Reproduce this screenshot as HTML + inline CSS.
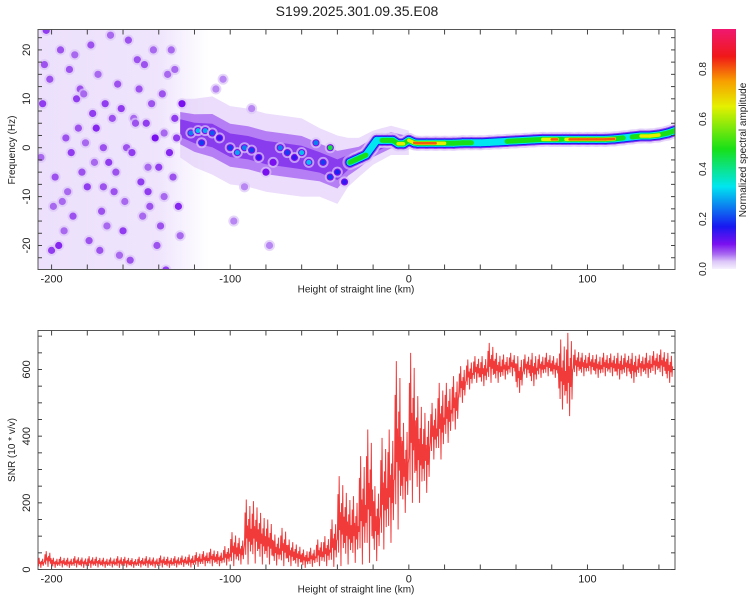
<!DOCTYPE html>
<html><head><meta charset="utf-8">
<style>
html,body{margin:0;padding:0;background:#fff;}
svg{display:block;font-family:"Liberation Sans",sans-serif;}
</style></head>
<body>
<svg id="chart" width="750" height="600" viewBox="0 0 750 600">
  <defs>
    <clipPath id="clipTop"><rect x="38" y="29" width="637" height="241"/></clipPath>
    <clipPath id="clipBot"><rect x="38" y="330" width="637" height="240"/></clipPath>
    <linearGradient id="cbGrad" x1="0" y1="1" x2="0" y2="0"></linearGradient>
    <linearGradient id="hazeGrad" x1="0" y1="0" x2="1" y2="0">
      <stop offset="0" stop-color="#e6d6fb" stop-opacity="0.75"/>
      <stop offset="0.7" stop-color="#e6d6fb" stop-opacity="0.65"/>
      <stop offset="1" stop-color="#e6d6fb" stop-opacity="0"/>
    </linearGradient>
  </defs>
  <text x="357" y="16" font-size="14" text-anchor="middle" fill="#222">S199.2025.301.09.35.E08</text>
  <g id="topPanel"></g>
  <g id="botPanel"></g>
  <g id="cbPanel"></g>
</svg>
<script>
// ---------- data ----------
const xTicks = [-200, -100, 0, 100];
const xMinorTicks = [-200,-180,-160,-140,-120,-100,-80,-60,-40,-20,0,20,40,60,80,100,120,140];
const freqTicks = [20, 10, 0, -10, -20];
const snrTicks = [0, 200, 400, 600];
const cbTicks = [0.0, 0.2, 0.4, 0.6, 0.8];

// coherent ridge (km, Hz, normalized amplitude)
const ridgeKm  = [-33,-30,-27,-24,-21,-18,-15,-12,-9,-6,-3,0,3,5,10,15,20,25,30,35,40,45,50,55,60,65,70,75,80,83,86,88,90,95,100,105,110,115,120,125,130,135,140,145,149];
const ridgeHz  = [-3,-2.5,-2,-1.5,0,1.5,1.5,1.5,1.5,0.8,0.8,1.5,1,0.9,0.9,0.9,0.9,0.9,1,1,1,1.1,1.2,1.3,1.4,1.5,1.6,1.7,1.7,1.7,1.7,1.7,1.7,1.7,1.7,1.7,1.7,1.8,2,2.2,2.4,2.4,2.6,3,3.5];
const ridgeAmp = [0.45,0.6,0.45,0.6,0.35,0.45,0.5,0.5,0.5,0.65,0.7,0.55,0.8,0.85,0.85,0.85,0.7,0.6,0.65,0.45,0.5,0.45,0.45,0.5,0.55,0.55,0.55,0.6,0.8,0.85,0.4,0.45,0.85,0.85,0.85,0.85,0.85,0.75,0.5,0.45,0.75,0.8,0.5,0.5,0.6];

// diffuse band (km, centre Hz, half-width Hz)
const bandKm   = [-128,-120,-110,-100,-90,-80,-70,-60,-50,-40,-34,-28,-20,-10,0];
const bandHz   = [4,3,2.5,0.5,0,-1,-1.5,-2,-3,-4.5,-3,-2,0,1.5,1];
const bandHalf = [6,7,8,8,8,8,8,8,7,7,5,4,3.5,3,2.5];

// scattered blobs
const blobKm  = [-205,-200,-196,-192,-190,-186,-183,-180,-178,-175,-172,-170,-168,-166,-163,-160,-158,-155,-152,-150,-147,-145,-142,-140,-138,-136,-134,-131,-129,-127,-198,-188,-173,-165,-157,-148,-141,-133,-203,-185,-162,-176,-194,-144,
  -206,-201,-199,-195,-193,-189,-187,-184,-181,-179,-177,-174,-171,-169,-167,-164,-161,-159,-156,-154,-151,-149,-146,-143,-139,-137,-135,-132,-130,-128,-204,-191,-182,-171,-153,-146,-137,-131,-108,-98,-88,-78,-104,-92,
  -122,-118,-114,-110,-116,-106,-100,-96,-92,-88,-84,-80,-76,-72,-68,-64,-60,-56,-52,-48,-44,-40,-36,-44];
const blobHz  = [9,-21,-20,2,16,10,-5,-8,21,4,-13,9,-3,6,13,-17,0,-1,18,-7,5,-12,2,-4,11,-25,-1,6,-12,9,-6,-14,-21,-9,22,17,-20,20,24,4,-22,-3,-11,9,
  -2,14,-12,20,-17,-1,19,12,1,-19,7,15,-8,-16,23,-5,8,-11,-23,6,12,-14,-9,20,-16,3,15,-6,2,-18,17,-9,11,0,5,-4,-10,16,12,-15,8,-20,14,-8,
  3,3.5,3.5,3,1,2,0,-1,0,-0.5,-2,-5,-3,0,-1,-2,-1,-3,1,-3,-6,-5,-7,0];
const blobAmp = [0.08,0.08,0.09,0.07,0.07,0.08,0.07,0.08,0.07,0.09,0.07,0.08,0.08,0.07,0.07,0.08,0.07,0.08,0.07,0.08,0.08,0.07,0.12,0.08,0.07,0.08,0.09,0.08,0.09,0.1,0.07,0.07,0.07,0.07,0.07,0.07,0.07,0.06,0.08,0.07,0.06,0.06,0.06,0.07,
  0.06,0.07,0.06,0.07,0.06,0.08,0.06,0.07,0.06,0.07,0.08,0.06,0.07,0.06,0.06,0.07,0.08,0.06,0.07,0.06,0.07,0.06,0.08,0.06,0.07,0.06,0.06,0.07,0.08,0.06,0.07,0.06,0.06,0.07,0.07,0.06,0.06,0.06,0.05,0.05,0.05,0.05,0.05,0.05,
  0.25,0.3,0.28,0.22,0.2,0.15,0.2,0.28,0.25,0.2,0.15,0.12,0.12,0.25,0.2,0.15,0.3,0.3,0.25,0.2,0.2,0.18,0.15,0.45];

// SNR per 4-km bin: low and high envelope
const snrKm = [-206,-202,-198,-194,-190,-186,-182,-178,-174,-170,-166,-162,-158,-154,-150,-146,-142,-138,-134,-130,-126,-122,-118,-114,-110,-106,-102,-98,-94,-90,-86,-82,-78,-74,-70,-66,-62,-58,-54,-50,-46,-42,-38,-34,-30,-26,-22,-18,-14,-10,-6,-2,2,6,10,14,18,22,26,30,34,38,42,46,50,54,58,62,66,70,74,78,82,86,90,94,98,102,106,110,114,118,122,126,130,134,138,142,146];
const snrLo = [5,8,5,6,5,6,5,5,6,5,6,5,6,5,6,5,5,6,5,6,8,6,8,10,10,10,12,10,15,15,18,15,15,12,10,10,8,5,8,10,10,8,10,15,20,15,20,25,60,80,120,170,200,200,230,330,330,380,420,500,540,560,550,560,560,570,580,530,575,550,575,580,575,480,460,580,580,585,575,580,580,570,580,560,580,575,585,580,560];
const snrHi = [35,55,35,38,35,40,36,40,38,35,36,40,38,34,38,40,36,42,38,40,42,45,52,55,62,55,70,112,95,210,205,170,150,105,125,90,75,60,65,90,100,150,280,230,220,340,420,250,395,420,625,440,650,520,470,500,560,560,580,610,630,640,640,680,650,645,650,640,645,650,645,650,640,690,710,660,650,650,645,650,648,650,648,650,645,650,655,660,650];

// ---------- helpers ----------
const NS = "http://www.w3.org/2000/svg";
function mk(tag, attrs, parent){ const e=document.createElementNS(NS,tag); for(const k in attrs) e.setAttribute(k,attrs[k]); parent.appendChild(e); return e; }

const X0=38, X1=675;
const KM0=-207.6, KM1=149;
function xs(km){ return X0 + (km-KM0)/(KM1-KM0)*(X1-X0); }
function yF(hz){ return 147.7 - hz*4.89; }
function yS(v){ return 569.5 - v*(200/600); }
function yC(v){ return 269 - v*250; }

const cmapStops = [[0,'#f6f0fe'],[0.03,'#dcc6f8'],[0.06,'#a868f0'],[0.1,'#7a10f0'],[0.17,'#1818f0'],[0.33,'#00e6f0'],[0.48,'#18e018'],[0.65,'#e4f000'],[0.75,'#f8a000'],[0.85,'#f01818'],[1,'#f01890']];
function hex2rgb(h){return [parseInt(h.substr(1,2),16),parseInt(h.substr(3,2),16),parseInt(h.substr(5,2),16)];}
function cmap(v){
  v=Math.max(0,Math.min(1,v));
  for(let i=1;i<cmapStops.length;i++){
    if(v<=cmapStops[i][0]){
      const a=cmapStops[i-1], b=cmapStops[i]; const t=(v-a[0])/(b[0]-a[0]);
      const ca=hex2rgb(a[1]), cb=hex2rgb(b[1]);
      return 'rgb('+ca.map((c,j)=>Math.round(c+(cb[j]-c)*t)).join(',')+')';
    }
  }
  return cmapStops[cmapStops.length-1][1];
}

const topG=document.getElementById('topPanel');
const botG=document.getElementById('botPanel');
const cbG=document.getElementById('cbPanel');

// ---------- top spectrogram ----------
const topData = mk('g',{'clip-path':'url(#clipTop)'},topG);


const haze = mk('rect',{x:xs(-208),y:29,width:xs(-112)-xs(-208),height:241,fill:'url(#hazeGrad)'},topData);



function bandPoly(scale, color, op, name){
  const up=[], dn=[];
  for(let i=0;i<bandKm.length;i++){
    up.push(xs(bandKm[i]).toFixed(1)+','+yF(bandHz[i]+bandHalf[i]*scale).toFixed(1));
    dn.unshift(xs(bandKm[i]).toFixed(1)+','+yF(bandHz[i]-bandHalf[i]*scale).toFixed(1));
  }
  const p=mk('polygon',{points:up.concat(dn).join(' '),fill:color,'fill-opacity':op},topData);
  
  
}
bandPoly(1.0,'#e2cffa',0.7,'band-halo');
bandPoly(0.55,'#9a4cf0',0.65,'band-core');
bandPoly(0.3,'#6a10e8',0.6,'band-center');

for(let i=0;i<blobKm.length;i++){
  const a=blobAmp[i], cx=xs(blobKm[i]), cy=yF(blobHz[i]);
  const g=mk('g',{},topData);
  
  
  mk('circle',{cx:cx,cy:cy,r:5.5,fill:cmap(0.03),'fill-opacity':0.7},g);
  mk('circle',{cx:cx,cy:cy,r:3.6,fill:cmap(Math.min(a,0.1))},g);
  if(a>0.12) mk('circle',{cx:cx,cy:cy,r:2.5,fill:cmap(a)},g);
}

const ridgeLayers=[[0.03,15,0.6],[0.08,11,1],[0.17,9,1],[0.33,7,1],[0.48,5,1],[0.65,3.5,1],[0.8,2.5,1]];
for(const L of ridgeLayers){
  for(let i=0;i<ridgeKm.length-1;i++){
    const a=(ridgeAmp[i]+ridgeAmp[i+1])/2;
    if(a<L[0]) continue;
    const s=mk('line',{x1:xs(ridgeKm[i]),y1:yF(ridgeHz[i]),x2:xs(ridgeKm[i+1]),y2:yF(ridgeHz[i+1]),stroke:cmap(L[0]),'stroke-width':L[1],'stroke-linecap':'round','stroke-opacity':L[2]},topData);
    
    
  }
}

// ---------- axes ----------
function frame(parent, y0, y1, name){
  const r=mk('rect',{x:X0,y:y0,width:X1-X0,height:y1-y0,fill:'none',stroke:'#555','stroke-width':1},parent);
  
  
  for(const k of xMinorTicks){
    const x=xs(k);
    const t1=mk('line',{x1:x,y1:y0,x2:x,y2:y0+5,stroke:'#444'},parent);
    
    
    const t2=mk('line',{x1:x,y1:y1,x2:x,y2:y1-5,stroke:'#444'},parent);
    
    
  }
  for(const k of xTicks){
    const t=mk('text',{x:xs(k),y:y1+13,'font-size':11,'text-anchor':'middle',fill:'#222'},parent);
    t.textContent=k;
    
    
  }
  const xl=mk('text',{x:356,y:y1+23,'font-size':10,'text-anchor':'middle',fill:'#222'},parent);
  xl.textContent='Height of straight line (km)';
  
  
}
frame(topG,29.5,269.5,'spectrogram-frame');
frame(botG,330.5,569.5,'snr-frame');

for(let h=-25;h<=25;h+=2.5){
  const y=yF(h); if(y<30||y>269) continue;
  for(const [xa,xb] of [[X0,X0+4],[X1,X1-4]]){
    const t=mk('line',{x1:xa,y1:y,x2:xb,y2:y,stroke:'#444'},topG);
    
    
  }
}
for(const h of freqTicks){
  const t=mk('text',{x:0,y:0,'font-size':11,'text-anchor':'middle',fill:'#222',transform:'translate(30,'+yF(h)+') rotate(-90)'},topG);
  t.textContent=h;
  
  
}
const fl=mk('text',{x:0,y:0,'font-size':10,'text-anchor':'middle',fill:'#222',transform:'translate(15,150) rotate(-90)'},topG);
fl.textContent='Frequency (Hz)';



// ---------- SNR ----------
for(let v=0;v<=700;v+=50){
  const y=yS(v);
  for(const [xa,xb] of [[X0,X0+4],[X1,X1-4]]){
    const t=mk('line',{x1:xa,y1:y,x2:xb,y2:y,stroke:'#444'},botG);
    
    
  }
}
for(const v of snrTicks){
  const t=mk('text',{x:0,y:0,'font-size':11,'text-anchor':'middle',fill:'#222',transform:'translate(30,'+yS(v)+') rotate(-90)'},botG);
  t.textContent=v;
  
  
}
const sl=mk('text',{x:0,y:0,'font-size':10,'text-anchor':'middle',fill:'#222',transform:'translate(15,450) rotate(-90)'},botG);
sl.textContent='SNR (10 * v/v)';



const frac=[0.3,0.8,0.15,1,0.4,0.6,0,0.7,0.35,0.9,0.2,0.55];
let pts=[];
for(let i=0;i<snrKm.length;i++){
  for(let j=0;j<frac.length;j++){
    const km=snrKm[i]-2+4*j/frac.length;
    const v=snrLo[i]+(snrHi[i]-snrLo[i])*frac[j];
    pts.push(xs(km).toFixed(2)+','+yS(v).toFixed(2));
  }
}
const line=mk('polyline',{points:pts.join(' '),fill:'none',stroke:'#f03030','stroke-width':1,'stroke-opacity':0.95,'clip-path':'url(#clipBot)'},botG);



// ---------- colorbar ----------
const grad=document.getElementById('cbGrad');
const cbTop=0.96;
for(const s of cmapStops){
  if(s[0]>cbTop) continue;
  mk('stop',{offset:(s[0]/cbTop),'stop-color':s[1]},grad);
}
mk('stop',{offset:1,'stop-color':cmap(cbTop)},grad);
const cbr=mk('rect',{x:712,y:yC(cbTop),width:24,height:yC(0)-yC(cbTop),fill:'url(#cbGrad)'},cbG);


for(const v of cbTicks){
  const t=mk('text',{x:0,y:0,'font-size':10,'text-anchor':'middle',fill:'#222',transform:'translate(706,'+yC(v)+') rotate(-90)'},cbG);
  t.textContent=v.toFixed(1);
  
  
}
const cl=mk('text',{x:0,y:0,'font-size':10,'text-anchor':'middle',fill:'#222',transform:'translate(746,150) rotate(-90)'},cbG);
cl.textContent='Normalized spectral amplitude';


</script>
</body></html>
